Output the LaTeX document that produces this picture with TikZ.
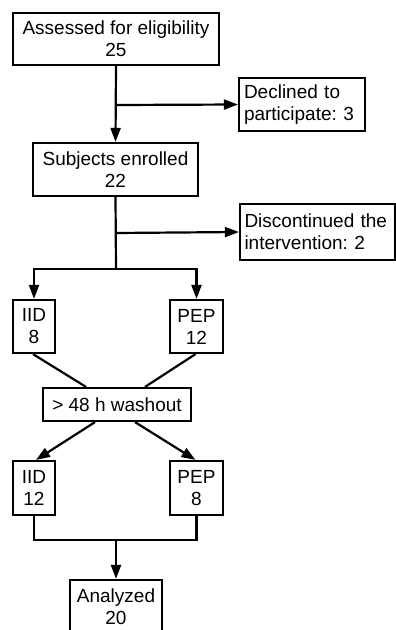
\documentclass[tikz,border=0pt]{standalone}
\usepackage{fontspec}
\setmainfont{Liberation Sans}
\usetikzlibrary{arrows.meta, positioning}
\frenchspacing

\begin{document}
\begin{tikzpicture}[
    x=1pt, y=-1pt,
    box/.style={draw, rectangle, line width=2.2pt, align=center,
                inner sep=0pt, font=\fontsize{19}{22}\selectfont},
    sidebox/.style={box, align=left, text width=#1},
    arrow/.style={-{Triangle[length=14pt, width=10pt]}, line width=2.2pt},
    link/.style={line width=2.2pt}
  ]
    \useasboundingbox (0,0) rectangle (396,630);

    \node[box, minimum width=206pt, minimum height=52pt] (assess) at (116,39)
      {Assessed for eligibility\\25};
    \node[sidebox=116pt, minimum width=126pt, minimum height=53pt] (declined) at (302,104.5)
      {Declined to\\participate: 3};
    \node[box, minimum width=165pt, minimum height=53pt] (enrolled) at (115.5,169.5)
      {Subjects enrolled\\22};
    \node[sidebox=146pt, minimum width=155pt, minimum height=56pt] (discont) at (317.5,232)
      {Discontinued the\\intervention: 2};

    \node[box, minimum width=42pt, minimum height=53pt] (iidA) at (34,326.5) {IID\\8};
    \node[box, minimum width=53pt, minimum height=53pt] (pepA) at (196.5,326.5) {PEP\\12};
    \node[box, minimum width=148pt, minimum height=33pt] (wash) at (117,404.5) {> 48 h washout};
    \node[box, minimum width=42pt, minimum height=54pt] (iidB) at (34,488) {IID\\12};
    \node[box, minimum width=53pt, minimum height=54pt] (pepB) at (196.5,488) {PEP\\8};
    \node[box, minimum width=92pt, minimum height=54pt] (analyzed) at (116,607) {Analyzed\\20};

    % junctions
    \coordinate (jdecl)  at (116,105);
    \coordinate (jdisc)  at (116,233);
    \coordinate (split)  at (116,269);
    \coordinate (merge)  at (116,540);

    \draw[arrow] (assess.south) -- (enrolled.north);
    \draw[arrow] (jdecl) -- (declined.west);

    \draw[link]  (enrolled.south) -- (split);
    \draw[arrow] (jdisc) -- (discont.west);
    \draw[arrow] (split) -| (iidA.north);
    \draw[arrow] (split) -| (pepA.north);

    \draw[link] ([xshift=-1pt]iidA.south) -- ([xshift=-31pt]wash.north);
    \draw[link] ([xshift=-1pt]pepA.south) -- ([xshift=28pt]wash.north);

    \draw[arrow] ([xshift=-22pt]wash.south) -- ([xshift=2pt]iidB.north);
    \draw[arrow] ([xshift=18pt]wash.south) -- ([xshift=-1pt]pepB.north);

    \draw[link]  (iidB.south) |- (merge) -| (pepB.south);
    \draw[arrow] (merge) -- (analyzed.north);
  \end{tikzpicture}
\end{document}
